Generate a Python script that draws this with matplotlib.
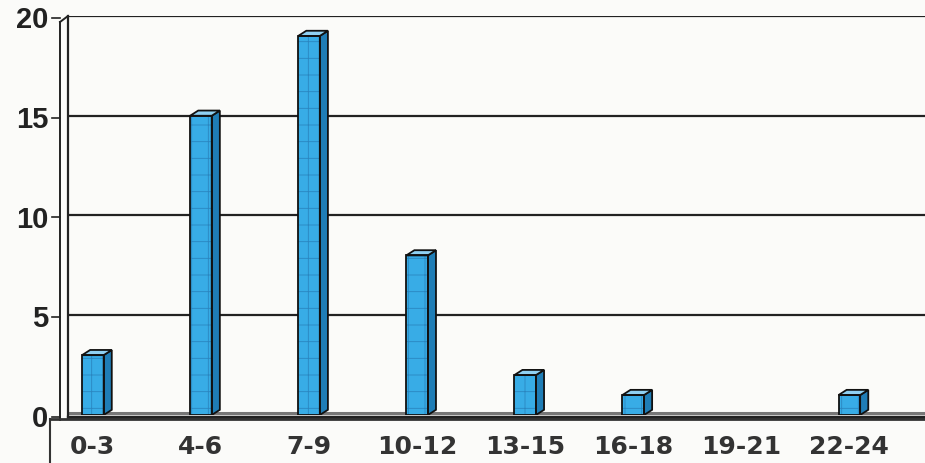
import matplotlib.pyplot as plt
from matplotlib.patches import Polygon
from matplotlib.lines import Line2D

categories = ['0-3', '4-6', '7-9', '10-12', '13-15', '16-18', '19-21', '22-24']
values = [3, 15, 19, 8, 2, 1, 0, 1]
yticks = [0, 5, 10, 15, 20]

plt.rcParams['hatch.linewidth'] = 0.6

W, H = 925, 463
fig = plt.figure(figsize=(W / 100, H / 100), dpi=100)
fig.patch.set_facecolor('#fbfbf9')

# axes: left at 68px, 0 at 415px, 20 at 16px
ax = fig.add_axes([68 / W, (H - 415) / H, 1 - 68 / W, (415 - 16) / H])
ax.set_facecolor('none')
ax.set_xlim(-0.23, 7.70)
ax.set_ylim(0, 20)
for s in ax.spines.values():
    s.set_visible(False)
ax.set_xticks([])
ax.set_yticks([])

# back-wall gridlines
for t in yticks[1:]:
    ax.axhline(t, color='#222222', lw=1.6, zorder=1)

# bars with a fake 3D look
bw = 0.2
dx = 0.075
dy = 0.26
front = '#38ace6'
side = '#1f7db6'
top = '#8fd0f2'
xs = list(range(len(categories)))
for x, v in zip(xs, values):
    if v == 0:
        continue
    l = x - bw / 2
    r = x + bw / 2
    ax.bar(x, v, width=bw, color=front, edgecolor='#2a86c0', hatch='+',
           lw=0, zorder=3)
    ax.bar(x, v, width=bw, fill=False, edgecolor='#111111', lw=1.3, zorder=4)
    ax.add_patch(Polygon([(r, 0), (r + dx, dy), (r + dx, v + dy), (r, v)],
                         closed=True, fc=side, ec='#111111', lw=1.3, zorder=3))
    ax.add_patch(Polygon([(l, v), (l + dx, v + dy), (r + dx, v + dy), (r, v)],
                         closed=True, fc=top, ec='#111111', lw=1.3, zorder=3))

# floor line
ax.axhline(0.12, color='#777777', lw=2.2, zorder=2)
ax.axhline(-0.1, color='#222222', lw=2.5, zorder=2, clip_on=False)

# left wall: back and front vertical lines joined at top
fig.add_artist(Line2D([68 / W, 68 / W], [(H - 415) / H, (H - 16) / H],
                      color='#222222', lw=1.6))
fig.add_artist(Line2D([60 / W, 60 / W], [(H - 420) / H, (H - 22) / H],
                      color='#222222', lw=1.4))
fig.add_artist(Line2D([60 / W, 68 / W], [(H - 22) / H, (H - 16) / H],
                      color='#222222', lw=1.4))

# y tick labels with small ticks
for t in yticks:
    yp = (H - (415 - t * 19.95)) / H
    fig.text(48 / W, yp - 4 / H, str(t), ha='right', va='center', fontsize=21,
             fontweight='bold', family='Liberation Sans', color='#222222')
    fig.add_artist(Line2D([52 / W, 60 / W], [yp - 0.004, yp - 0.004],
                          color='#222222', lw=1.2))

# category label box
fig.add_artist(Line2D([50 / W, 1], [(H - 419) / H, (H - 419) / H],
                      color='#333333', lw=2))
fig.add_artist(Line2D([50 / W, 50 / W], [0, (H - 419) / H],
                      color='#333333', lw=1.5))
for x, c in zip(xs, categories):
    xp = ax.transData.transform((x, 0))[0] / W
    fig.text(xp, (H - 447) / H, c, ha='center', va='center', fontsize=18,
             fontweight='bold', family='DejaVu Sans', color='#333333')

fig.savefig('out.png', dpi=100, facecolor=fig.get_facecolor())
